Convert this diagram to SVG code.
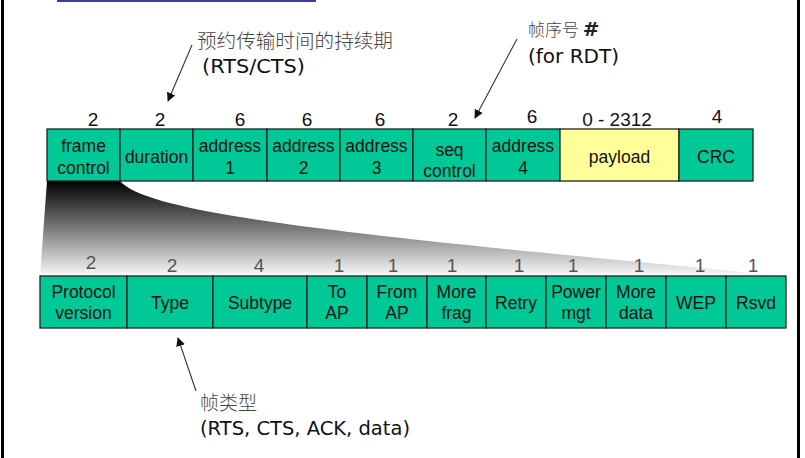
<svg xmlns="http://www.w3.org/2000/svg" width="805" height="458" viewBox="0 0 805 458">
<style>
.cell{fill:#00c896;stroke:#222;stroke-width:1.3}
.pay{fill:#ffff99;stroke:#222;stroke-width:1.3}
.lbl{font-family:"Liberation Sans",Arial,sans-serif;font-size:17.5px;fill:#111;text-anchor:middle}
.num{font-family:"Liberation Sans",Arial,sans-serif;font-size:19px;fill:#111;text-anchor:middle}
.num2{font-family:"Liberation Sans",Arial,sans-serif;font-size:19px;fill:#555;text-anchor:middle}
.cjk{font-family:"Noto Sans CJK SC",sans-serif;font-size:19.6px;fill:#444;font-weight:300}
.note{font-family:"DejaVu Sans",sans-serif;font-size:19px;fill:#111}
.arrow{stroke:#333;stroke-width:1.1;fill:none;marker-end:url(#ah)}
</style>
<defs>
<marker id="ah" viewBox="0 0 10 10" refX="9" refY="5" markerWidth="9" markerHeight="9" markerUnits="userSpaceOnUse" orient="auto">
<path d="M0,0 L10,5 L0,10 Z" fill="#111"/>
</marker>
<linearGradient id="fan" gradientUnits="userSpaceOnUse" x1="0" y1="181" x2="0" y2="276">
<stop offset="0" stop-color="#000"/>
<stop offset="0.5" stop-color="#7a7a7a"/>
<stop offset="1" stop-color="#fafafa"/>
</linearGradient>
</defs>
<rect x="0" y="0" width="805" height="458" fill="#fff"/>
<rect x="57" y="0" width="259" height="2" fill="#3c3ca8"/>
<line x1="2.5" y1="0" x2="2.5" y2="458" stroke="#000" stroke-width="3"/>
<line x1="798.5" y1="0" x2="798.5" y2="458" stroke="#000" stroke-width="3"/>

<path id="fan-shape" d="M47,181 L120,181 C150,215 350,235 786,276 L40,276 Z" fill="url(#fan)"/>

<g id="frame-control"><rect class="cell" x="47" y="129" width="73" height="52"/><text class="lbl" x="83.5" y="152">frame</text><text class="lbl" x="83.5" y="174">control</text></g>
<g id="duration"><rect class="cell" x="120" y="129" width="73" height="52"/><text class="lbl" x="156.5" y="163">duration</text></g>
<g id="address1"><rect class="cell" x="193" y="129" width="74" height="52"/><text class="lbl" x="230" y="152">address</text><text class="lbl" x="230" y="174">1</text></g>
<g id="address2"><rect class="cell" x="267" y="129" width="73" height="52"/><text class="lbl" x="303.5" y="152">address</text><text class="lbl" x="303.5" y="174">2</text></g>
<g id="address3"><rect class="cell" x="340" y="129" width="73" height="52"/><text class="lbl" x="376.5" y="152">address</text><text class="lbl" x="376.5" y="174">3</text></g>
<g id="seq-control"><rect class="cell" x="413" y="129" width="73" height="52"/><text class="lbl" x="449.5" y="156">seq</text><text class="lbl" x="449.5" y="177">control</text></g>
<g id="address4"><rect class="cell" x="486" y="129" width="74" height="52"/><text class="lbl" x="523" y="152">address</text><text class="lbl" x="523" y="174">4</text></g>
<g id="payload"><rect class="pay" x="560" y="129" width="119" height="52"/><text class="lbl" x="619.5" y="163">payload</text></g>
<g id="crc"><rect class="cell" x="679" y="129" width="74" height="52"/><text class="lbl" x="716" y="163">CRC</text></g>

<g id="top-sizes">
<text class="num" x="93" y="126">2</text>
<text class="num" x="160" y="126">2</text>
<text class="num" x="240" y="126">6</text>
<text class="num" x="307" y="126">6</text>
<text class="num" x="380" y="126">6</text>
<text class="num" x="453" y="126">2</text>
<text class="num" x="532" y="123">6</text>
<text class="num" x="617" y="126">0 - 2312</text>
<text class="num" x="717" y="123">4</text>
</g>

<g id="protocol-version"><rect class="cell" x="40" y="276" width="87" height="52"/><text class="lbl" x="83.5" y="298">Protocol</text><text class="lbl" x="83.5" y="319">version</text></g>
<g id="type"><rect class="cell" x="127" y="276" width="86" height="52"/><text class="lbl" x="170" y="309">Type</text></g>
<g id="subtype"><rect class="cell" x="213" y="276" width="94" height="52"/><text class="lbl" x="260" y="309">Subtype</text></g>
<g id="to-ap"><rect class="cell" x="307" y="276" width="60" height="52"/><text class="lbl" x="337" y="298">To</text><text class="lbl" x="337" y="319">AP</text></g>
<g id="from-ap"><rect class="cell" x="367" y="276" width="60" height="52"/><text class="lbl" x="397" y="298">From</text><text class="lbl" x="397" y="319">AP</text></g>
<g id="more-frag"><rect class="cell" x="427" y="276" width="59" height="52"/><text class="lbl" x="456.5" y="298">More</text><text class="lbl" x="456.5" y="319">frag</text></g>
<g id="retry"><rect class="cell" x="486" y="276" width="60" height="52"/><text class="lbl" x="516" y="309">Retry</text></g>
<g id="power-mgt"><rect class="cell" x="546" y="276" width="60" height="52"/><text class="lbl" x="576" y="298">Power</text><text class="lbl" x="576" y="319">mgt</text></g>
<g id="more-data"><rect class="cell" x="606" y="276" width="60" height="52"/><text class="lbl" x="636" y="298">More</text><text class="lbl" x="636" y="319">data</text></g>
<g id="wep"><rect class="cell" x="666" y="276" width="60" height="52"/><text class="lbl" x="696" y="309">WEP</text></g>
<g id="rsvd"><rect class="cell" x="726" y="276" width="60" height="52"/><text class="lbl" x="756" y="309">Rsvd</text></g>

<g id="bottom-sizes">
<text class="num2" x="91" y="269">2</text>
<text class="num2" x="172" y="272">2</text>
<text class="num2" x="259" y="272">4</text>
<text class="num2" x="339" y="272">1</text>
<text class="num2" x="393" y="272">1</text>
<text class="num2" x="452" y="272">1</text>
<text class="num2" x="519" y="272">1</text>
<text class="num2" x="573" y="272">1</text>
<text class="num2" x="639" y="272">1</text>
<text class="num2" x="700" y="272">1</text>
<text class="num2" x="753" y="272">1</text>
</g>

<g id="note-duration"><text class="cjk" x="197" y="48">预约传输时间的持续期</text><text class="note" x="202" y="73" textLength="103" lengthAdjust="spacingAndGlyphs">(RTS/CTS)</text></g>
<g id="note-seq"><text class="cjk" x="528" y="36" style="font-size:17px">帧序号 <tspan style="font-family:'DejaVu Sans',sans-serif;font-weight:bold;font-size:20px;fill:#222">#</tspan></text><text class="note" x="528" y="63" textLength="91" lengthAdjust="spacingAndGlyphs">(for RDT)</text></g>
<g id="note-type"><text class="cjk" x="200" y="410" style="font-size:19px">帧类型</text><text class="note" x="200" y="435" textLength="210" lengthAdjust="spacingAndGlyphs">(RTS, CTS, ACK, data)</text></g>

<g id="connectors">
<line class="arrow" x1="192" y1="45" x2="168" y2="101"/>
<line class="arrow" x1="517" y1="39" x2="475" y2="118"/>
<line class="arrow" x1="196" y1="391" x2="178" y2="338"/>
</g>
</svg>
